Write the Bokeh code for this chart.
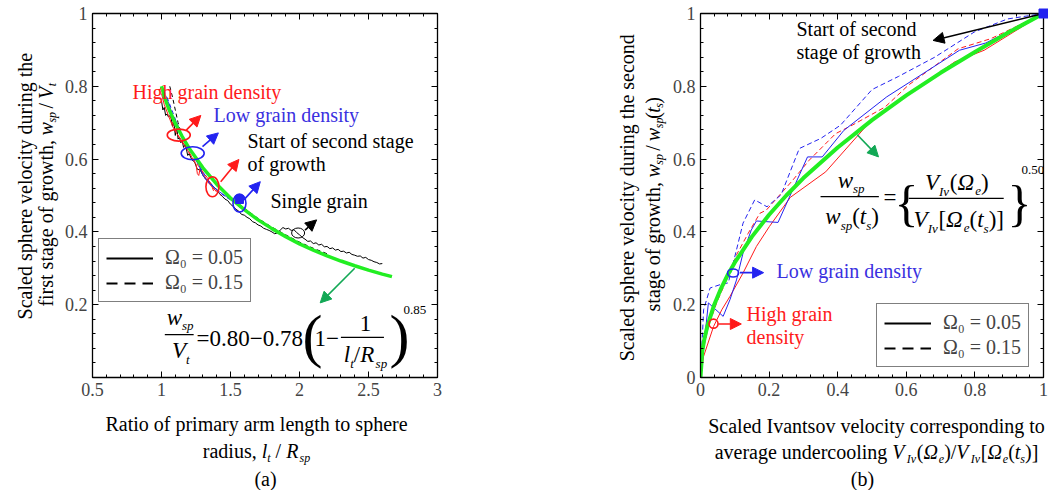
import math
from bokeh.plotting import figure
from bokeh.models import (LinearAxis, FixedTicker, Label, Arrow, NormalHead,
                          Legend, LegendItem, Range1d)
from bokeh.layouts import row, column
from bokeh.embed import file_html
from bokeh.resources import INLINE

FONT = "Liberation Serif"
NAN = float("nan")

# ------------------------------------------------------------------ data (a)
a_fit_x = [1.00, 1.02, 1.05, 1.10, 1.15, 1.20, 1.30, 1.40, 1.50, 1.60, 1.70,
           1.80, 1.90, 2.00, 2.10, 2.20, 2.30, 2.40, 2.50, 2.60, 2.67]
a_fit_y = [0.800, 0.772, 0.741, 0.698, 0.662, 0.630, 0.576, 0.531, 0.493, 0.461,
           0.433, 0.409, 0.387, 0.367, 0.350, 0.334, 0.320, 0.307, 0.295, 0.284, 0.277]

a_single_x = [1.00, 1.01, 1.02, 1.03, 1.04, 1.05, 1.06, 1.07, 1.08, 1.09, 1.10,
              1.11, 1.12, 1.13, 1.14, 1.15, 1.16, 1.17, 1.18, 1.19, 1.20, 1.22,
              1.24, 1.26, 1.28, 1.30, 1.32, 1.34, 1.36, 1.38, 1.40, 1.42, 1.44,
              1.46, 1.48, 1.50, 1.52, 1.54, 1.56, 1.58, 1.60, 1.62, 1.64, 1.66,
              1.68, 1.70, 1.72, 1.74, 1.76, 1.78, 1.80, 1.82, 1.84, 1.86, 1.88,
              1.90, 1.92, 1.94, 1.96, 1.98, 2.00, 2.02, 2.04, 2.06, 2.08, 2.10,
              2.12, 2.14, 2.16, 2.18, 2.20, 2.22, 2.24, 2.26, 2.28, 2.30, 2.32,
              2.34, 2.36, 2.38, 2.40, 2.42, 2.44, 2.46, 2.48, 2.50, 2.52, 2.54,
              2.56, 2.58, 2.60]
a_single_y = [0.760, 0.735, 0.742, 0.720, 0.724, 0.716, 0.719, 0.712, 0.690, 0.700,
              0.665, 0.690, 0.655, 0.660, 0.645, 0.650, 0.632, 0.640, 0.628, 0.610,
              0.615, 0.598, 0.592, 0.572, 0.570, 0.556, 0.545, 0.540, 0.532, 0.522,
              0.517, 0.505, 0.498, 0.490, 0.486, 0.476, 0.470, 0.462, 0.457, 0.448,
              0.446, 0.440, 0.436, 0.428, 0.425, 0.419, 0.416, 0.410, 0.407, 0.404,
              0.400, 0.395, 0.397, 0.405, 0.412, 0.408, 0.410, 0.404, 0.406, 0.398,
              0.392, 0.385, 0.380, 0.374, 0.375, 0.368, 0.370, 0.364, 0.366, 0.359,
              0.360, 0.354, 0.356, 0.350, 0.352, 0.346, 0.347, 0.342, 0.344, 0.338,
              0.336, 0.333, 0.334, 0.328, 0.330, 0.324, 0.322, 0.318, 0.316, 0.312,
              0.313]

a_single15_x = [1.06, 1.08, 1.10, 1.12, 1.14, 1.17, 1.20, 1.25, 1.30, 1.40, 1.50,
                1.60, 1.70, 1.80, 1.90, 2.00, 2.10, 2.20]
a_single15_y = [0.800, 0.770, 0.735, 0.700, 0.675, 0.650, 0.630, 0.600, 0.575, 0.530,
                0.495, 0.465, 0.437, 0.413, 0.392, 0.372, 0.355, 0.340]

a_high05_x = [1.00, 1.02, 1.05, 1.08, 1.11, 1.14, 1.18, 1.22, 1.25, 1.26, 1.27,
              1.28, 1.31, 1.34, 1.37, 1.40]
a_high05_y = [0.780, 0.750, 0.720, 0.690, 0.670, 0.655, 0.630, 0.605, 0.585, 0.560,
              0.555, 0.575, 0.555, 0.535, 0.522, 0.510]
a_high15_x = [1.01, 1.04, 1.07, 1.10, 1.14, 1.19, 1.24, 1.29, 1.33, 1.36, 1.38,
              1.40, 1.43]
a_high15_y = [0.775, 0.745, 0.710, 0.680, 0.650, 0.625, 0.595, 0.570, 0.550, 0.530,
              0.510, 0.515, 0.500]
a_low05_x = [1.03, 1.06, 1.08, 1.11, 1.15, 1.19, 1.23, 1.27, 1.30, 1.33, 1.37,
             1.42, 1.47, 1.52, 1.56, 1.60]
a_low05_y = [0.775, 0.745, 0.720, 0.700, 0.660, 0.630, 0.610, 0.585, 0.555, 0.540,
             0.525, 0.510, 0.497, 0.485, 0.470, 0.460]
a_low15_x = [1.04, 1.07, 1.10, 1.14, 1.18, 1.22, 1.26, 1.30, 1.35, 1.40, 1.45,
             1.50, 1.55, 1.58]
a_low15_y = [0.770, 0.740, 0.710, 0.670, 0.640, 0.620, 0.590, 0.565, 0.535, 0.515,
             0.500, 0.488, 0.478, 0.470]

# start of the second stage of growth (circled points)
a_start_x = [1.125, 1.226, 1.369, 1.565, 1.990]
a_start_y = [0.666, 0.616, 0.524, 0.479, 0.397]

# ------------------------------------------------------------------ data (b)
b_fit_x = [0.0, 0.005, 0.01, 0.02, 0.04, 0.06, 0.08, 0.10, 0.15, 0.20, 0.25,
           0.30, 0.40, 0.50, 0.60, 0.70, 0.80, 0.90, 1.00]
b_fit_y = [0.0, 0.071, 0.100, 0.141, 0.200, 0.245, 0.283, 0.316, 0.387, 0.447,
           0.500, 0.548, 0.632, 0.707, 0.775, 0.837, 0.894, 0.949, 1.000]

b_low15_x = [0.0, 0.009, 0.028, 0.057, 0.081, 0.105, 0.124, 0.158, 0.194, 0.235,
             0.288, 0.351, 0.408, 0.500, 0.577, 0.683, 0.798, 0.895, 1.0]
b_low15_y = [0.0, 0.186, 0.246, 0.255, 0.260, 0.351, 0.424, 0.488, 0.469, 0.502,
             0.629, 0.657, 0.693, 0.791, 0.827, 0.880, 0.949, 0.985, 1.0]
b_low05_x = [0.0, 0.004, 0.023, 0.066, 0.086, 0.105, 0.124, 0.148, 0.163, 0.226,
             0.312, 0.355, 0.418, 0.543, 0.611, 0.755, 0.832, 1.0]
b_low05_y = [0.0, 0.031, 0.205, 0.168, 0.214, 0.268, 0.342, 0.405, 0.430, 0.426,
             0.606, 0.606, 0.679, 0.771, 0.812, 0.899, 0.919, 1.0]
b_high05_x = [0.0, 0.009, 0.038, 0.062, 0.086, 0.124, 0.163, 0.201, 0.262, 0.365,
              0.490, 0.596, 0.741, 0.827, 1.0]
b_high05_y = [0.0, 0.058, 0.140, 0.186, 0.223, 0.287, 0.360, 0.415, 0.495, 0.565,
              0.698, 0.771, 0.867, 0.899, 1.0]
b_high15_x = [0.0, 0.004, 0.023, 0.047, 0.076, 0.105, 0.139, 0.173, 0.192, 0.269,
              0.317, 0.394, 0.442, 0.538, 0.606, 0.751, 0.847, 1.0]
b_high15_y = [0.0, 0.060, 0.140, 0.205, 0.268, 0.337, 0.396, 0.451, 0.460, 0.542,
              0.597, 0.670, 0.693, 0.743, 0.803, 0.903, 0.931, 1.0]

b_start_x = [1.0]
b_start_y = [1.0]
b_mark_x = [0.095, 0.038]
b_mark_y = [0.287, 0.148]

# ------------------------------------------------------------------ helpers
WID = {' ': .25, 'a': .444, 'b': .5, 'c': .444, 'd': .5, 'e': .444, 'f': .333,
       'g': .5, 'h': .5, 'i': .278, 'j': .278, 'k': .5, 'l': .278, 'm': .778,
       'n': .5, 'o': .5, 'p': .5, 'q': .5, 'r': .333, 's': .389, 't': .278,
       'u': .5, 'v': .5, 'w': .722, 'x': .5, 'y': .5, 'z': .444, 'A': .722,
       'B': .667, 'C': .667, 'D': .722, 'E': .611, 'F': .556, 'G': .722,
       'H': .722, 'I': .333, 'L': .611, 'R': .667, 'S': .556, 'T': .611,
       'V': .722, 'W': .944, '.': .25, ',': .25, '/': .278, '(': .333,
       ')': .333, '[': .333, ']': .333, '{': .48, '}': .48, '=': .564,
       '−': .564, 'Ω': .768}

A_LEFT, B_LEFT, BOTTOM = 89, 697, 377
MID = 0.3375   # em-box middle above the baseline


def tw(s, size):
    return sum(WID.get(c, .5) for c in s) * size


def conv_a(X, Y):
    return X - A_LEFT, BOTTOM - Y


def conv_b(X, Y):
    return X - B_LEFT, BOTTOM - Y


def txt(p, conv, X, Y, text, size=20, italic=False, color="black",
        align="left", angle=0.0):
    """(X, Y) is the baseline point in picture pixels."""
    if angle == 0.0:
        Y = Y - MID * size
    else:
        X = X - MID * size
    if conv is None:          # text panel whose data units are picture pixels
        x, y, units = X, Y, "data"
    else:                     # offsets from the plot frame
        (x, y), units = conv(X, Y), "screen"
    p.add_layout(Label(x=x, y=y, x_units=units, y_units=units, text=text,
                       text_font=FONT, text_font_size=f"{size}px",
                       text_font_style="italic" if italic else "normal",
                       text_color=color, text_align=align,
                       text_baseline="middle", angle=angle))


def R(t, s=20):
    return (t, s, False, 0)


def I(t, s=20):
    return (t, s, True, 0)


def SUB(t, s=12, d=-5):
    return (t, s, True, d)


def rich(p, conv, X, Y, parts, align="left", vertical=False, color="black"):
    """Pieces of mixed text; the first piece is right-aligned on the joint
    with the second, so a long leading phrase never runs into the symbols."""
    ws = [tw(t, s) for t, s, it, d in parts]
    total = sum(ws)
    sign = -1 if vertical else 1
    if align == "center":
        start = (Y + total / 2) if vertical else (X - total / 2)
    else:
        start = Y if vertical else X
    pos = start
    for k, ((t, s, it, d), w) in enumerate(zip(parts, ws)):
        shown = t.strip()
        if shown:
            lead = tw(t[:len(t) - len(t.lstrip())], s)
            trail = tw(t[len(t.rstrip()):], s)
            if k == 0 and len(parts) > 1:
                anchor, al = pos + sign * (w - trail), "right"
            else:
                anchor, al = pos + sign * lead, "left"
            if vertical:
                txt(p, conv, X - d, anchor, shown, s, it, color, align=al,
                    angle=math.pi / 2)
            else:
                txt(p, conv, anchor, Y - d, shown, s, it, color, align=al)
        pos = pos + sign * w


def hbar(p, x0, x1, y, color="black"):
    p.add_layout(Arrow(x_start=x0, y_start=y, x_end=x1, y_end=y, end=None,
                       line_color=color, line_width=1.2))


def arrow(p, x0, y0, x1, y1, color):
    p.add_layout(Arrow(x_start=x0, y_start=y0, x_end=x1, y_end=y1,
                       line_color=color, line_width=1.6,
                       end=NormalHead(size=11, fill_color=color,
                                      line_color=color)))


def style_axes(p, xt, xminor, yt, yminor, xlab, ylab):
    p.xaxis.ticker = FixedTicker(ticks=xt, minor_ticks=xminor)
    p.yaxis.ticker = FixedTicker(ticks=yt, minor_ticks=yminor)
    p.xaxis.major_label_overrides = xlab
    p.yaxis.major_label_overrides = ylab
    for ax in (p.xaxis[0], p.yaxis[0]):
        ax.major_label_text_font = FONT
        ax.major_label_text_font_size = "18px"
        ax.major_label_standoff = 5
    for side, t, mt in (("right", yt, yminor), ("above", xt, xminor)):
        p.add_layout(LinearAxis(ticker=FixedTicker(ticks=t, minor_ticks=mt),
                                major_label_overrides={v: "" for v in t},
                                major_label_text_font_size="1px",
                                major_label_standoff=0), side)
    for ax in p.axis:
        ax.axis_line_color = "black"
        ax.axis_line_width = 1.3
        ax.major_tick_in = 6
        ax.major_tick_out = 0
        ax.minor_tick_in = 3
        ax.minor_tick_out = 0
        ax.major_tick_line_color = "black"
        ax.minor_tick_line_color = "black"
    p.xgrid.visible = False
    p.ygrid.visible = False
    p.outline_line_color = "black"


def legend(p, loc):
    l1 = p.line([NAN], [NAN], line_color="black", line_width=2)
    l2 = p.line([NAN], [NAN], line_color="black", line_width=2, line_dash="11 7")
    lg = Legend(items=[LegendItem(label="Ω₀ = 0.05", renderers=[l1]),
                       LegendItem(label="Ω₀ = 0.15", renderers=[l2])],
                location=loc, border_line_color="black", border_line_width=1.2,
                label_text_font=FONT, label_text_font_size="20px",
                glyph_width=47, glyph_height=20, label_standoff=12,
                padding=7, spacing=2, margin=0, background_fill_alpha=1)
    p.add_layout(lg)


def text_panel(x0, x1, y0, y1):
    """Blank panel for titles; its data units are picture pixels (y downwards)."""
    t = figure(width=x1 - x0, height=y1 - y0, x_range=Range1d(x0, x1),
               y_range=Range1d(y1, y0), x_axis_type=None, y_axis_type=None,
               output_backend="svg", toolbar_location=None, min_border=0)
    t.outline_line_color = None
    return t


RED = "#ff1a1a"
BLUE = "#2323f0"
BLUET = "#3a30e0"
GREEN = "#22ee22"
DGREEN = "#12a855"

# ------------------------------------------------------------------ panel (a)
pA = figure(width=499, height=407, x_range=(0.5, 3), y_range=(0, 1),
            output_backend="svg", toolbar_location=None,
            min_border_left=28, min_border_right=123, min_border_top=13,
            min_border_bottom=30)
style_axes(pA, [0.5, 1, 1.5, 2, 2.5, 3], [round(0.5 + 0.1 * i, 2) for i in range(26)],
           [0, 0.2, 0.4, 0.6, 0.8, 1], [round(0.04 * i, 2) for i in range(26)],
           {0.5: "0.5", 1: "1", 1.5: "1.5", 2: "2", 2.5: "2.5", 3: "3"},
           {0: "", 0.2: "0.2", 0.4: "0.4", 0.6: "0.6", 0.8: "0.8", 1: "1"})

pA.line(a_single15_x, a_single15_y, line_color="black", line_width=1, line_dash="4 3")
pA.line(a_single_x, a_single_y, line_color="black", line_width=1)
pA.line(a_high15_x, a_high15_y, line_color=RED, line_width=1, line_dash="4 3")
pA.line(a_high05_x, a_high05_y, line_color=RED, line_width=1)
pA.line(a_low15_x, a_low15_y, line_color=BLUE, line_width=1, line_dash="4 3")
pA.line(a_low05_x, a_low05_y, line_color=BLUE, line_width=1)
pA.line(a_fit_x, a_fit_y, line_color=GREEN, line_width=3.5)
pA.ellipse(x=a_start_x, y=a_start_y, width=[23, 23, 13, 13, 13],
           height=[12, 13, 20, 18, 10], width_units="screen", height_units="screen",
           fill_color=None, line_color=[RED, BLUE, RED, BLUE, "black"],
           line_width=[1.6, 1.6, 1.6, 1.6, 1.0])
pA.scatter([a_start_x[3]], [a_start_y[3] + 0.01], marker="square", size=8,
           fill_color=BLUE, line_color=BLUE)

arrow(pA, 1.178, 0.679, 1.285, 0.720, RED)
arrow(pA, 1.297, 0.634, 1.412, 0.672, BLUE)
arrow(pA, 1.429, 0.538, 1.561, 0.599, RED)
arrow(pA, 1.597, 0.488, 1.716, 0.538, BLUE)
arrow(pA, 2.040, 0.405, 2.124, 0.433, "black")
arrow(pA, 2.400, 0.300, 2.150, 0.205, DGREEN)

txt(pA, conv_a, 129, 98, "High grain density", color=RED)
txt(pA, conv_a, 210, 121, "Low grain density", color=BLUET)
txt(pA, conv_a, 244, 147, "Start of second stage")
txt(pA, conv_a, 244, 170, "of growth")
txt(pA, conv_a, 267, 207, "Single grain")

legend(pA, (6, 75))

# equation (a)
rich(pA, conv_a, 176, 325, [I("w", 23), SUB("sp", 13, -4)], align="center")
hbar(pA, 1.024, 1.233, 0.118)
rich(pA, conv_a, 176, 358, [I("V", 23), SUB("t", 13, -5)], align="center")
txt(pA, conv_a, 193, 346, "=0.80−0.78", 23)
txt(pA, conv_a, 299, 356, "(", 60)
txt(pA, conv_a, 311, 346, "1−", 23)
txt(pA, conv_a, 362, 331, "1", 23, align="center")
hbar(pA, 2.30, 2.612, 0.110)
rich(pA, conv_a, 362, 362, [I("l", 23), SUB("t", 13, -5), R("/", 23), I("R", 23),
                            SUB("sp", 13, -5)], align="center")
txt(pA, conv_a, 386, 356, ")", 60)
txt(pA, conv_a, 400, 314, "0.85", 13)

# ------------------------------------------------------------------ panel (b)
pB = figure(width=379, height=407, x_range=(0, 1), y_range=(0, 1),
            output_backend="svg", toolbar_location=None,
            min_border_left=28, min_border_right=5, min_border_top=13,
            min_border_bottom=30)
style_axes(pB, [0, 0.2, 0.4, 0.6, 0.8, 1], [round(0.04 * i, 2) for i in range(26)],
           [0, 0.2, 0.4, 0.6, 0.8, 1], [round(0.04 * i, 2) for i in range(26)],
           {0: "0", 0.2: "0.2", 0.4: "0.4", 0.6: "0.6", 0.8: "0.8", 1: "1"},
           {0: "0", 0.2: "0.2", 0.4: "0.4", 0.6: "0.6", 0.8: "0.8", 1: "1"})

pB.line(b_high05_x, b_high05_y, line_color=RED, line_width=1)
pB.line(b_high15_x, b_high15_y, line_color=RED, line_width=1, line_dash="5 3")
pB.line(b_low05_x, b_low05_y, line_color=BLUE, line_width=1)
pB.line(b_low15_x, b_low15_y, line_color=BLUE, line_width=1, line_dash="5 3")
pB.line(b_fit_x, b_fit_y, line_color=GREEN, line_width=4)
pB.ellipse(x=b_mark_x, y=b_mark_y, width=[11, 9], height=[8, 9],
           width_units="screen", height_units="screen", fill_color=None,
           line_color=[BLUE, RED], line_width=1.6)
sq = pB.scatter(b_start_x, b_start_y, marker="square", size=9, fill_color=BLUE,
                line_color=BLUE)
sq.level = "overlay"

arrow(pB, 1.0, 1.0, 0.678, 0.926, "black")
arrow(pB, 0.457, 0.667, 0.519, 0.606, DGREEN)
arrow(pB, 0.115, 0.288, 0.184, 0.288, BLUE)
arrow(pB, 0.052, 0.147, 0.119, 0.147, RED)

txt(pB, conv_b, 793, 35, "Start of second")
txt(pB, conv_b, 793, 58, "stage of growth")
txt(pB, conv_b, 773, 277, "Low grain density", color=BLUET)
txt(pB, conv_b, 743, 320, "High grain", color=RED)
txt(pB, conv_b, 743, 343, "density", color=RED)

legend(pB, (176, 10))

# equation (b)
rich(pB, conv_b, 847, 188, [I("w", 23), SUB("sp", 13, -4)], align="center")
hbar(pB, 0.350, 0.520, 0.497)
rich(pB, conv_b, 848, 224, [I("w", 23), SUB("sp", 13, -5), R("(", 23), I("t", 23),
                            SUB("s", 13, -5), R(")", 23)], align="center")
txt(pB, conv_b, 880, 205, "=", 23)
txt(pB, conv_b, 891, 219, "{", 50)
rich(pB, conv_b, 952, 190, [I("V", 23), SUB("Iv", 13, -5), R("(", 23), I("Ω", 23),
                            SUB("e", 13, -5), R(")", 23)], align="center")
hbar(pB, 0.607, 0.884, 0.492)
rich(pB, conv_b, 954, 227, [I("V", 23), SUB("Iv", 13, -5), R("[", 23), I("Ω", 23),
                            SUB("e", 13, -5), R("(", 23), I("t", 23),
                            SUB("s", 13, -5), R(")", 23), R("]", 23)], align="center")
txt(pB, conv_b, 1004, 219, "}", 50)
txt(pB, conv_b, 1018, 174, "0.50", 13)

# ------------------------------------------------------------------ title panels
yA = text_panel(0, 61, 0, 407)
txt(yA, None, 31, 193, "Scaled sphere velocity during the", align="center",
    angle=math.pi / 2)
rich(yA, None, 52, 193, [R("first stage of growth, "), I("w"), SUB("sp", 12, -4),
                         R(" / "), I("V"), SUB("t", 12, -4)],
     align="center", vertical=True)

xA = text_panel(0, 560, 407, 490)
txt(xA, None, 256, 430, "Ratio of primary arm length to sphere", align="center")
rich(xA, None, 256, 457, [R("radius, "), I("l"), SUB("t"), R(" / "), I("R"),
                          SUB("sp")], align="center")
txt(xA, None, 265, 485, "(a)", align="center")

yB = text_panel(560, 669, 0, 407)
txt(yB, None, 633, 206, "Scaled sphere velocity during the second", align="center",
    angle=math.pi / 2)
rich(yB, None, 659, 206, [R("stage of growth, "), I("w"), SUB("sp", 12, -4),
                          R(" / "), I("w"), SUB("sp", 12, -4), R("("), I("t"),
                          SUB("s", 12, -4), R(")")],
     align="center", vertical=True)

xB = text_panel(560, 1048, 407, 490)
txt(xB, None, 876, 432, "Scaled Ivantsov velocity corresponding to", align="center")
rich(xB, None, 876, 458, [R("average undercooling "), I("V"), SUB("Iv"), R("("),
                          I("Ω"), SUB("e"), R(")"), R("/"), I("V"), SUB("Iv"),
                          R("["), I("Ω"), SUB("e"), R("("), I("t"), SUB("s"),
                          R(")"), R("]")], align="center")
txt(xB, None, 862, 485, "(b)", align="center")

layout = row(column(row(yA, pA), xA), column(row(yB, pB), xB))
open("out.html", "w").write(file_html(layout, INLINE))
